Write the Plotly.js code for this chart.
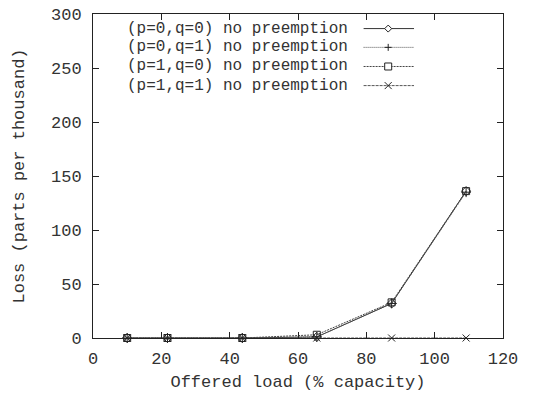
<!DOCTYPE html>
<html>
<head>
<meta charset="utf-8">
<script src="https://cdn.plot.ly/plotly-3.0.1.min.js"></script>
<style>html,body{margin:0;padding:0;background:#fff;}#chart{width:534px;height:393px;}</style>
</head>
<body>
<div id="chart"></div>
<script>
// ---- data ----
const offeredLoad = [10, 21.8, 43.7, 65.5, 87.4, 109.2];
const lossP0Q0 = [0, 0, 0, 1, 32, 136];
const lossP0Q1 = [0, 0, 0, 1, 32, 135];
const lossP1Q0 = [0, 0, 0, 3, 33, 136];
const lossP1Q1 = [0, 0, 0, 0, 0, 0];
const seriesNames = [
  "(p=0,q=0) no preemption",
  "(p=0,q=1) no preemption",
  "(p=1,q=0) no preemption",
  "(p=1,q=1) no preemption"
];
const xTicks = [0, 20, 40, 60, 80, 100, 120];
const yTicks = [0, 50, 100, 150, 200, 250, 300];

// ---- styles ----
const FONT = "Liberation Mono, DejaVu Sans Mono, monospace";
const TXT = "#333";
const styles = [
  {dash: "solid", symbol: "diamond-open", color: "#333"},
  {dash: "1px,1px", symbol: "cross-thin-open", color: "#555"},
  {dash: "2px,1px", symbol: "square-open", color: "#444"},
  {dash: "3px,1px", symbol: "x-thin-open", color: "#555"}
];
const series = [lossP0Q0, lossP0Q1, lossP1Q0, lossP1Q1];

const traces = series.map((ys, i) => ({
  x: offeredLoad, y: ys, name: seriesNames[i], type: "scatter", mode: "lines+markers",
  line: {color: styles[i].color, width: 1, dash: styles[i].dash},
  marker: {symbol: styles[i].symbol, size: 7, color: "#222", line: {width: 1, color: "#222"}},
  showlegend: false, cliponaxis: false
}));

// legend drawn with annotations and shapes
const rowY = [0.955, 0.897, 0.838, 0.779];
const textRight = 0.625, lineX0 = 0.66, lineX1 = 0.783, markX = 0.72;
const annotations = [], shapes = [];
seriesNames.forEach((n, i) => {
  annotations.push({xref: "paper", yref: "paper", x: textRight, y: rowY[i], xanchor: "right", yanchor: "middle",
    text: n, showarrow: false, borderpad: 0, font: {family: FONT, size: 16, color: TXT}});
  shapes.push({type: "line", xref: "paper", yref: "paper", x0: lineX0, x1: lineX1, y0: rowY[i], y1: rowY[i],
    line: {color: styles[i].color, width: 1, dash: styles[i].dash}});
});
const markerPaths = [
  "M -3.5 0 L 0 3.5 L 3.5 0 L 0 -3.5 Z",
  "M -3.5 0 L 3.5 0 M 0 -3.5 L 0 3.5",
  "M -3.5 -3.5 L 3.5 -3.5 L 3.5 3.5 L -3.5 3.5 Z",
  "M -3.5 -3.5 L 3.5 3.5 M -3.5 3.5 L 3.5 -3.5"
];
markerPaths.forEach((p, i) => {
  shapes.push({type: "path", xref: "paper", yref: "paper", xsizemode: "pixel", ysizemode: "pixel",
    xanchor: markX, yanchor: rowY[i], path: p, fillcolor: "rgba(255,255,255,1)", line: {color: "#222", width: 1}});
});

const axisCommon = {
  showgrid: false, zeroline: false, showline: true, linecolor: "#222", linewidth: 1, mirror: "ticks",
  ticks: "inside", ticklen: 6, tickcolor: "#222", tickfont: {family: FONT, size: 17, color: TXT}
};

const layout = {
  width: 534, height: 393,
  margin: {l: 93, r: 31, t: 14, b: 55},
  paper_bgcolor: "#fff", plot_bgcolor: "#fff",
  xaxis: Object.assign({}, axisCommon, {range: [0, 120], tickvals: xTicks, ticktext: xTicks.map(String),
    ticklabelstandoff: 5,
    title: {text: "Offered load (% capacity)", font: {family: FONT, size: 17, color: TXT}, standoff: 6}}),
  yaxis: Object.assign({}, axisCommon, {range: [0, 300], tickvals: yTicks, ticktext: yTicks.map(String),
    ticklabelstandoff: 7,
    title: {text: "Loss (parts per thousand)", font: {family: FONT, size: 17, color: TXT}, standoff: 22}}),
  annotations: annotations, shapes: shapes
};

Plotly.newPlot("chart", traces, layout, {staticPlot: true, displayModeBar: false});
</script>
</body>
</html>
